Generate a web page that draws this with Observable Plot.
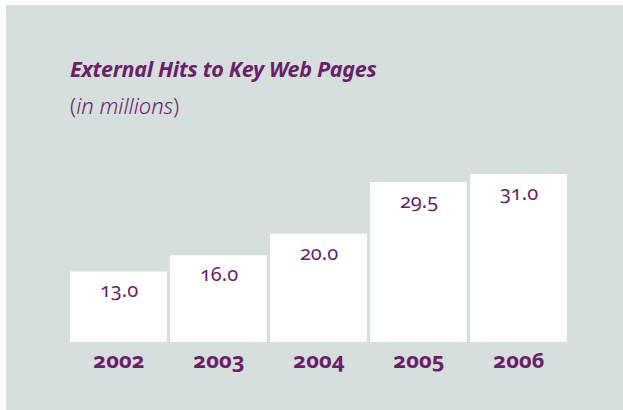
<!DOCTYPE html>
<html>
<head>
<meta charset="utf-8">
<script src="https://cdn.jsdelivr.net/npm/d3@7"></script>
<script src="https://cdn.jsdelivr.net/npm/@observablehq/plot@0.6"></script>
<style>
  html, body { margin: 0; padding: 0; background: #ffffff; }
  #panel {
    position: absolute; left: 6px; top: 5px; width: 617px; height: 405px;
    background: #d6dfde; overflow: hidden;
    font-family: "Noto Sans", sans-serif; color: #6b1f68;
  }
  #title {
    position: absolute; left: 64px; top: 50px; margin: 0;
    font-size: 21.5px; font-weight: bold; font-style: italic; line-height: 28px;
    letter-spacing: -0.3px; white-space: nowrap;
  }
  #subtitle {
    position: absolute; left: 64px; top: 86px; margin: 0;
    font-size: 22px; font-weight: 300; line-height: 28px; white-space: nowrap;
  }
  #chart { position: absolute; left: 0; top: 125px; }
  svg text { font-variant-numeric: oldstyle-nums; }
</style>
</head>
<body>
<div id="panel">
  <div id="title">External Hits to Key Web Pages</div>
  <div id="subtitle">(<i>in millions</i>)</div>
  <div id="chart"></div>
</div>
<script>
const years = ["2002", "2003", "2004", "2005", "2006"];
const hits = [13.0, 16.0, 20.0, 29.5, 31.0];
const labels = ["13.0", "16.0", "20.0", "29.5", "31.0"];

const data = years.map((y, i) => ({year: y, value: hits[i], label: labels[i]}));
const purple = "#6b1f68";

const chart = Plot.plot({
  width: 617,
  height: 285,
  marginLeft: 64,
  marginRight: 56.3,
  marginTop: 44,
  marginBottom: 73,
  style: {background: "transparent", fontFamily: "Noto Sans, sans-serif"},
  x: {domain: years, paddingInner: 0.033, paddingOuter: 0, label: null},
  y: {domain: [0, 31], axis: null},
  marks: [
    Plot.barY(data, {x: "year", y: "value", fill: "#ffffff"}),
    Plot.text(data, {x: "year", y: "value", text: "label", dy: 19, lineAnchor: "middle",
      fontSize: 20, fill: purple}),
    Plot.axisX({tickSize: 0, tickPadding: 10, fontSize: 22, fontWeight: "bold", fill: purple})
  ]
});
document.getElementById("chart").appendChild(chart);
</script>
</body>
</html>
